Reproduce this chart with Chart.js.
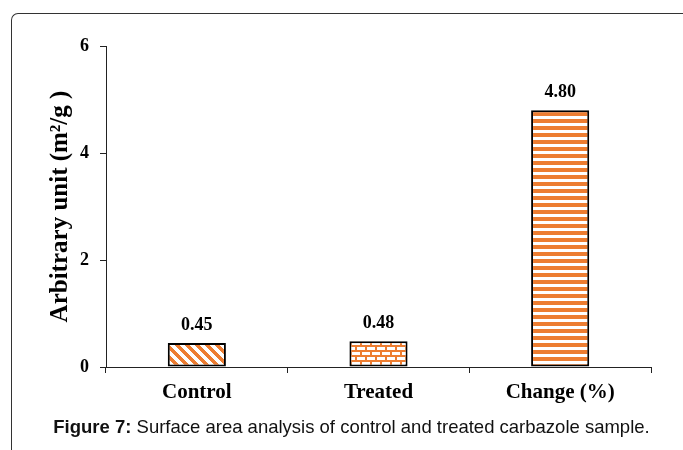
<!DOCTYPE html>
<html>
<head>
<meta charset="utf-8">
<script src="https://cdn.jsdelivr.net/npm/chart.js@4/dist/chart.umd.min.js"></script>
<style>
  html, body { margin: 0; padding: 0; background: #fff; }
  #wrap { position: relative; width: 683px; height: 450px; overflow: hidden; }
  #frame {
    position: absolute; left: 11px; top: 13px; width: 700px; height: 460px;
    border-left: 1.5px solid #333; border-top: 1.5px solid #333;
    border-top-left-radius: 7px;
  }
  #chart { position: absolute; left: 0; top: 0; }
  #caption {
    position: absolute; left: 0; width: 703px; top: 416px; text-align: center;
    font-family: "Liberation Sans", Arial, sans-serif; font-size: 18.5px; color: #111;
  }
</style>
</head>
<body>
<div id="wrap">
  <div id="frame"></div>
  <canvas id="chart" width="683" height="450"></canvas>
  <div id="caption"><b>Figure 7:</b> Surface area analysis of control and treated carbazole sample.</div>
</div>
<script>
// Surface area values per sample
const categories = ['Control', 'Treated', 'Change (%)'];
const surfaceArea = [0.45, 0.48, 4.80];
const yTicks = [0, 2, 4, 6];

const ORANGE = '#ED7D31';

// Small tile patterns for the bar fills
function makeTile(w, h, paint) {
    const c = document.createElement('canvas');
    c.width = w; c.height = h;
    const g = c.getContext('2d');
    g.fillStyle = '#fff';
    g.fillRect(0, 0, w, h);
    g.fillStyle = ORANGE;
    paint(g, w, h);
    return c.getContext('2d').createPattern(c, 'repeat');
}

// diagonal stripes going down to the right
const diagPattern = makeTile(10, 10, (g, w, h) => {
    for (let y = 0; y < h; y++) {
        for (let x = 0; x < w; x++) {
            if (((x - y) % 10 + 10) % 10 < 5) g.fillRect(x, y, 1, 1);
        }
    }
});

// brick wall
const brickPattern = makeTile(10, 10, (g) => {
    g.fillRect(0, 0, 10, 2);
    g.fillRect(0, 5, 10, 2);
    g.fillRect(0, 0, 2, 5);
    g.fillRect(5, 5, 2, 5);
});

// horizontal stripes
const hStripePattern = makeTile(7, 7, (g) => {
    g.fillRect(0, 0, 7, 4);
});

const valueLabels = {
    id: 'valueLabels',
    afterDatasetsDraw(chart) {
        const ctx = chart.ctx;
        const meta = chart.getDatasetMeta(0);
        ctx.save();
        ctx.font = 'bold 18px "Liberation Serif", "Times New Roman", serif';
        ctx.fillStyle = '#000';
        ctx.textAlign = 'center';
        ctx.textBaseline = 'alphabetic';
        meta.data.forEach((bar, i) => {
            ctx.fillText(surfaceArea[i].toFixed(2), bar.x, bar.y - 13);
        });
        ctx.restore();
    }
};

const serif = '"Liberation Serif", "Times New Roman", serif';

new Chart(document.getElementById('chart'), {
    type: 'bar',
    data: {
        labels: categories,
        datasets: [{
            data: surfaceArea,
            backgroundColor: [diagPattern, brickPattern, hStripePattern],
            borderColor: '#000',
            borderWidth: 2,
            borderSkipped: false,
            barPercentage: 0.32,
            categoryPercentage: 1
        }]
    },
    options: {
        responsive: false,
        animation: false,
        events: [],
        layout: { padding: { left: 0, top: 46, right: 32, bottom: 0 } },
        plugins: { legend: { display: false }, tooltip: { enabled: false } },
        scales: {
            x: {
                afterFit(s) { s.height = 83; },
                grid: { display: true, drawOnChartArea: false, drawTicks: true, tickLength: 6, color: '#222', offset: true },
                border: { display: true, color: '#222', width: 1 },
                ticks: {
                    color: '#000', padding: 7,
                    font: { family: serif, size: 21, weight: 'bold' }
                }
            },
            y: {
                min: 0, max: 6,
                afterFit(s) { s.width = 106; },
                afterBuildTicks(s) { s.ticks = yTicks.map(v => ({ value: v })); },
                grid: { display: true, drawOnChartArea: false, drawTicks: true, tickLength: 6, color: '#222' },
                border: { display: true, color: '#222', width: 1 },
                ticks: {
                    color: '#000', padding: 11,
                    font: { family: serif, size: 18, weight: 'bold' }
                },
                title: {
                    display: true,
                    text: 'Arbitrary unit (m²/g )',
                    color: '#000',
                    padding: { top: 46, bottom: 0 },
                    font: { family: serif, size: 25, weight: 'bold' }
                }
            }
        }
    },
    plugins: [valueLabels]
});
</script>
</body>
</html>
